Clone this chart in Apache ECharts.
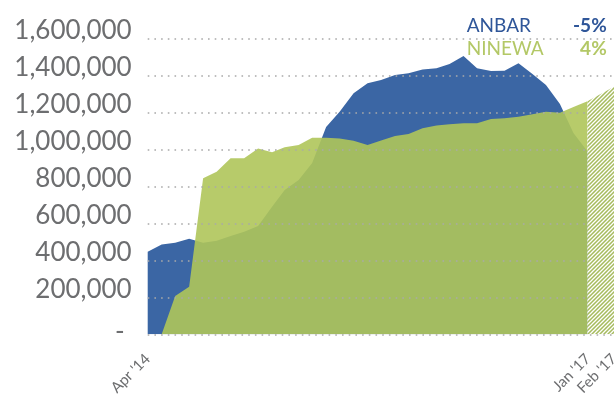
<!DOCTYPE html>
<html>
<head>
<meta charset="utf-8">
<script src="https://cdn.jsdelivr.net/npm/echarts@6/dist/echarts.min.js"></script>
<style>
  html, body { margin: 0; padding: 0; background: #ffffff; }
  #chart { width: 614px; height: 394px; }
</style>
</head>
<body>
<div id="chart"></div>
<script>
// Month-end reporting dates
const dates = [
  '2014-04-30','2014-05-31','2014-06-30','2014-07-31','2014-08-31','2014-09-30',
  '2014-10-31','2014-11-30','2014-12-31','2015-01-31','2015-02-28','2015-03-31',
  '2015-04-30','2015-05-31','2015-06-30','2015-07-31','2015-08-31','2015-09-30',
  '2015-10-31','2015-11-30','2015-12-31','2016-01-31','2016-02-29','2016-03-31',
  '2016-04-30','2016-05-31','2016-06-30','2016-07-31','2016-08-31','2016-09-30',
  '2016-10-31','2016-11-30','2016-12-31'
];

// Displaced population by governorate of origin
const anbar = [
  446000, 486000, 495000, 517000, 495000, 506000, 532000, 555000, 585000,
  690000, 780000, 834000, 926000, 1120000, 1203000, 1303000, 1357000, 1375000,
  1402000, 1411000, 1432000, 1438000, 1461000, 1504000, 1438000, 1423000,
  1425000, 1465000, 1407000, 1348000, 1245000, 1088000, 990000
];
const ninewa = [
  0, 0, 207000, 257000, 843000, 879000, 951000, 951000, 1005000,
  984000, 1011000, 1023000, 1063000, 1063000, 1059000, 1046000, 1023000, 1048000,
  1072000, 1083000, 1114000, 1128000, 1135000, 1141000, 1141000, 1164000,
  1168000, 1176000, 1189000, 1203000, 1197000, 1228000, 1260000
];

// Latest (hatched) segment for Ninewa
const ninewaLatestDates = ['2016-12-31', '2017-02-28'];
const ninewaLatest = [1260000, 1338000];

// Axis labels
const xTickDates = ['2014-04-30', '2017-01-01', '2017-02-28'];
const xTickLabels = ["Apr '14", "Jan '17", "Feb '17"];
const yMin = 0, yMax = 1600000, yStep = 200000;

// Legend entries with change figures
const legendNames = ['ANBAR', 'NINEWA'];
const legendChanges = ['-5%', '4%'];

const BLUE = '#3b66a4';
const BLUE_TEXT = '#2f5699';
const GREEN = 'rgba(175,197,90,0.9)';
const GREEN_TEXT = '#b3c866';
const GREY = '#6d6e70';

// Dates become day counts on a numeric axis
const DAY = 86400000;
const toDay = (s) => {
  const [y, m, d] = s.split('-').map(Number);
  return Date.UTC(y, m - 1, d) / DAY;
};
const xTickDays = xTickDates.map(toDay);

// Diagonal white hatching over green
function hatchPattern() {
  const c = document.createElement('canvas');
  const s = 4;
  c.width = s; c.height = s;
  const g = c.getContext('2d');
  g.fillStyle = '#a6bb5e';
  g.fillRect(0, 0, s, s);
  g.strokeStyle = '#ffffff';
  g.lineWidth = 1.3;
  g.beginPath();
  g.moveTo(-1, s + 1); g.lineTo(s + 1, -1);
  g.moveTo(-1, 1); g.lineTo(1, -1);
  g.moveTo(s - 1, s + 1); g.lineTo(s + 1, s - 1);
  g.stroke();
  return c;
}

const chart = echarts.init(document.getElementById('chart'), null, { renderer: 'canvas' });

chart.setOption({
  animation: false,
  backgroundColor: '#ffffff',
  grid: {
    left: 147.7, right: 0, top: 38.3, bottom: 59.7,
    containLabel: false,
    outerBoundsMode: 'none'
  },
  xAxis: {
    type: 'value',
    min: toDay(dates[0]),
    max: toDay(ninewaLatestDates[1]),
    axisLine: { show: false },
    axisTick: { show: false },
    splitLine: { show: false },
    axisLabel: {
      customValues: xTickDays,
      rotate: 45,
      margin: 22,
      fontFamily: 'Lato',
      fontSize: 15,
      color: GREY,
      showMinLabel: true,
      showMaxLabel: true,
      hideOverlap: false,
      formatter: function (v) {
        for (let i = 0; i < xTickDays.length; i++) {
          if (Math.abs(xTickDays[i] - v) < 0.5) return xTickLabels[i];
        }
        return '';
      }
    }
  },
  yAxis: {
    type: 'value',
    min: yMin,
    max: yMax,
    interval: yStep,
    z: 3,
    axisLine: { show: false },
    axisTick: { show: false },
    splitLine: {
      show: true,
      lineStyle: { color: '#a9a9a9', width: 1.5, type: [1.6, 5.1] }
    },
    axisLabel: {
      margin: 16,
      fontFamily: 'Lato',
      fontSize: 26,
      color: GREY,
      verticalAlign: 'middle',
      padding: [0, 0, 15, 0],
      formatter: function (v) {
        return v === 0 ? '{z|-}' : v.toLocaleString('en-US');
      },
      rich: {
        z: { fontFamily: 'Lato', fontSize: 26, color: GREY, padding: [10, 7, 0, 0] }
      }
    }
  },
  series: [
    {
      name: legendNames[0],
      type: 'line',
      data: dates.map((d, i) => [toDay(d), anbar[i]]),
      symbol: 'none',
      lineStyle: { width: 0 },
      areaStyle: { color: BLUE, opacity: 1 },
      z: 2
    },
    {
      name: legendNames[1],
      type: 'line',
      data: dates.map((d, i) => [toDay(d), ninewa[i]]),
      symbol: 'none',
      lineStyle: { width: 0 },
      areaStyle: { color: GREEN, opacity: 1 },
      z: 2
    },
    {
      name: legendNames[1] + ' latest',
      type: 'line',
      data: ninewaLatestDates.map((d, i) => [toDay(d), ninewaLatest[i]]),
      symbol: 'none',
      lineStyle: { width: 0 },
      areaStyle: { color: { image: hatchPattern(), repeat: 'repeat' }, opacity: 1 },
      z: 4
    }
  ],
  graphic: [
    { type: 'text', x: 466.7, y: 26, z: 10,
      style: { text: legendNames[0], fill: BLUE_TEXT, font: '19px Lato', verticalAlign: 'middle', align: 'left' } },
    { type: 'text', x: 606.7, y: 26, z: 10,
      style: { text: legendChanges[0], fill: BLUE_TEXT, font: 'bold 19px Lato', verticalAlign: 'middle', align: 'right' } },
    { type: 'text', x: 466.7, y: 48.5, z: 10,
      style: { text: legendNames[1], fill: GREEN_TEXT, font: '19px Lato', verticalAlign: 'middle', align: 'left' } },
    { type: 'text', x: 606.7, y: 48.5, z: 10,
      style: { text: legendChanges[1], fill: GREEN_TEXT, font: 'bold 19px Lato', verticalAlign: 'middle', align: 'right' } }
  ]
});
</script>
</body>
</html>
